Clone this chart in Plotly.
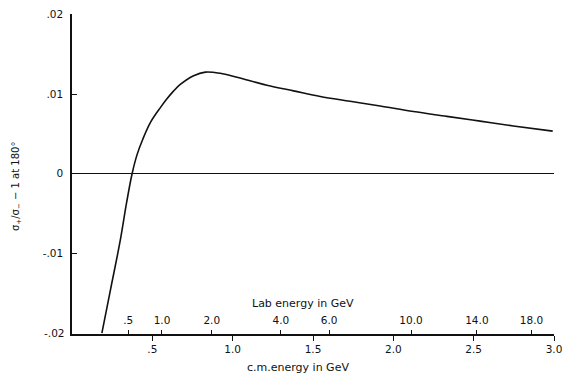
import plotly.graph_objects as go

# c.m. energy (GeV) and asymmetry sigma+/sigma- - 1 at 180 deg
cm_energy = [0.186, 0.240, 0.300, 0.340, 0.374, 0.405, 0.440, 0.490, 0.550, 0.591,
             0.633, 0.674, 0.757, 0.830, 0.923, 1.027, 1.213, 1.379, 1.545, 1.731,
             1.918, 2.125, 2.333, 2.540, 2.747, 2.992]
ratio = [-0.0200, -0.0145, -0.0084, -0.0036, 0.0000, 0.0024, 0.0043, 0.0065, 0.0083, 0.0094,
         0.0104, 0.0112, 0.0123, 0.01275, 0.0126, 0.0121, 0.0111, 0.0104, 0.0097, 0.0091,
         0.0085, 0.0078, 0.0072, 0.0066, 0.0060, 0.00535]

cm_tickvals = [0.5, 1.0, 1.5, 2.0, 2.5, 3.0]
cm_ticktext = [".5", "1.0", "1.5", "2.0", "2.5", "3.0"]

# lab energy ticks, positioned at their c.m. equivalents
lab_tickvals = [0.35, 0.56, 0.87, 1.30, 1.60, 2.11, 2.52, 2.86]
lab_ticktext = [".5", "1.0", "2.0", "4.0", "6.0", "10.0", "14.0", "18.0"]

y_tickvals = [-0.02, -0.01, 0, 0.01, 0.02]
y_ticktext = ["-.02", "-.01", "0", ".01", ".02"]

FONT = dict(family="DejaVu Sans, sans-serif", size=11, color="#111")
TICKFONT = dict(family="DejaVu Sans, sans-serif", size=10.5, color="#111")

# the page body has an 8px margin, so the figure is sized to fill the remaining window
W, H = 562, 366
L, R, T, B = 64, 16, 6, 40
PW, PH = W - L - R, H - T - B

fig = go.Figure()
fig.add_trace(go.Scatter(x=cm_energy, y=ratio, mode="lines",
                         line=dict(color="#111", width=1.6, shape="spline", smoothing=1.0),
                         hoverinfo="skip", showlegend=False))
# invisible copy to attach the lab-energy axis
fig.add_trace(go.Scatter(x=cm_energy, y=ratio, mode="lines", xaxis="x2",
                         line=dict(color="rgba(0,0,0,0)", width=0),
                         hoverinfo="skip", showlegend=False))

fig.update_layout(
    width=W, height=H,
    margin=dict(l=L, r=R, t=T, b=B, autoexpand=False),
    paper_bgcolor="white", plot_bgcolor="white",
    font=FONT,
    showlegend=False,
    xaxis=dict(range=[0, 3.0], tickvals=cm_tickvals, ticktext=cm_ticktext,
               ticks="outside", ticklen=5, tickwidth=1.2, tickcolor="#111",
               showline=True, linecolor="#111", linewidth=1.5, automargin=False,
               showgrid=False, zeroline=False, tickfont=TICKFONT),
    xaxis2=dict(range=[0, 3.0], overlaying="x", anchor="y", side="bottom",
                tickvals=lab_tickvals, ticktext=lab_ticktext,
                ticks="inside", ticklen=4, tickwidth=1.2, tickcolor="#111",
                ticklabelposition="inside", ticklabelstandoff=3, automargin=False,
                showline=False, showgrid=False, zeroline=False, tickfont=TICKFONT),
    yaxis=dict(range=[-0.0201, 0.02004], tickvals=y_tickvals, ticktext=y_ticktext,
               ticks="inside", ticklen=5, tickwidth=1.2, tickcolor="#111",
               showline=True, linecolor="#111", linewidth=1.5, automargin=False,
               showgrid=False, zeroline=True, zerolinecolor="#111", zerolinewidth=1.2,
               ticklabelstandoff=5, ticklabeloverflow="allow", tickfont=TICKFONT),
    annotations=[
        # bottom y tick label (plotly suppresses it at the corner shared with the lab axis)
        dict(text=y_ticktext[0], xref="paper", yref="y", x=0, y=y_tickvals[0],
             xanchor="right", yanchor="middle", xshift=-5, showarrow=False, font=TICKFONT),
        dict(text="Lab energy in GeV", xref="paper", yref="paper",
             x=(295 - L) / PW, y=(T + PH - 295) / PH,
             showarrow=False, xanchor="center", yanchor="middle", font=FONT),
        dict(text="c.m.energy in GeV", xref="paper", yref="paper",
             x=(290 - L) / PW, y=-(359 - T - PH) / PH,
             showarrow=False, xanchor="center", yanchor="middle", font=FONT),
        dict(text="σ<sub>+</sub>/σ<sub>−</sub> − 1 at 180°", xref="paper", yref="paper",
             x=-(L - 8) / PW, y=(T + PH - 179) / PH, textangle=-90,
             showarrow=False, xanchor="center", yanchor="middle",
             font=dict(family="DejaVu Sans, sans-serif", size=10, color="#111")),
    ],
)

fig.write_html("out.html")
